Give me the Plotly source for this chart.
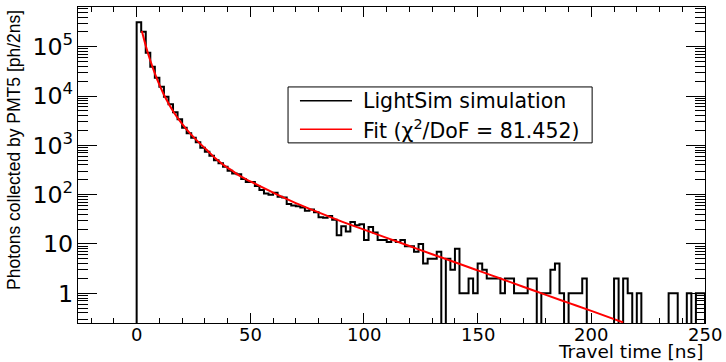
import plotly.graph_objects as go

# ---------------- data ----------------
bin_width = 2.0  # ns per bin
counts = [
    313000, 200000, 75000, 39000, 23500, 15400, 9700, 6800, 4700, 3400,
    2270, 1750, 1430, 1150, 890, 740, 614, 500, 431, 368,
    305, 270, 258, 207, 180, 180, 150, 124, 105, 100,
    110, 91, 88, 65, 60, 58, 55, 47, 50, 44,
    35, 34, 37, 31, 15, 23, 18, 28, 24, 25,
    12, 22, 17, 12, 12, 11, 12, 11, 12, 9,
    9, 7, 10, 4, 5, 5, 7, 0, 5, 3,
    8, 1, 1, 2, 1, 4, 3, 2, 2, 2,
    1, 2, 2, 1, 1, 1, 2, 2, 0, 1,
    1, 3, 4, 1, 0, 1, 1, 1, 2, 0,
    0, 0, 0, 0, 0, 2, 0, 2, 1, 0,
    1, 0, 0, 0, 0, 0, 0, 1, 1, 0,
    0, 1, 0, 1, 1,
]

fit_t = [2.3, 4.0, 6.0, 8.2, 10.4, 12.6, 16.3, 19.9, 23.6, 27.3, 30.9, 34.6,
         38.3, 41.9, 45.6, 50, 60, 70, 80, 90, 100, 110, 120, 130, 140, 150,
         160, 170, 180, 190, 200, 214]
fit_y = [2.08e5, 1.05e5, 5.25e4, 2.72e4, 1.54e4, 9.3e3, 4.7e3, 2.77e3, 1.73e3,
         1.15e3, 804, 545, 398, 309, 237, 186, 110, 67.6, 43.7, 28.8, 19.5,
         13.3, 9.1, 6.2, 4.27, 2.92, 2.0, 1.36, 0.93, 0.64, 0.44, 0.257]

x_tick_vals = [0, 50, 100, 150, 200, 250]
x_tick_text = ["0", "50", "100", "150", "200", "250"]

x_range = [-25.8, 250]
y_log_range = [-0.602, 5.805]

hist_name = "LightSim simulation"
fit_name = "Fit (\u03c7<sup>2</sup>/DoF = 81.452)"
x_title = "Travel time [ns]"
y_title = "Photons collected by PMT5 [ph/2ns]"

hist_color = "black"
fit_color = "#ff0000"

# ---------------- build step outline ----------------
floor = 10 ** (y_log_range[0] - 1)  # below the visible range -> drawn to frame bottom
edges = [i * bin_width for i in range(len(counts) + 1)]
vals = [c if c > 0 else floor for c in counts]
hx = [edges[0]] + edges
hy = [floor] + vals + [floor]

fig = go.Figure()
fig.add_trace(go.Scatter(
    x=hx, y=hy, mode="lines", line=dict(color=hist_color, width=2, shape="hv"),
    name=hist_name, hoverinfo="skip", showlegend=False))
fig.add_trace(go.Scatter(
    x=fit_t, y=fit_y, mode="lines", line=dict(color=fit_color, width=2, shape="spline"),
    name=fit_name, hoverinfo="skip", showlegend=False))

font_main = "DejaVu Sans"

# ---------------- legend box (ROOT TLegend style) ----------------
leg_x0, leg_x1 = 0.335, 0.820
leg_y0, leg_y1 = 0.570, 0.747
leg_rows = [0.7035, 0.613]
line_x0, line_x1 = 0.354, 0.437
text_x = 0.452

shapes = [dict(type="rect", xref="paper", yref="paper", x0=leg_x0, x1=leg_x1,
               y0=leg_y0, y1=leg_y1, line=dict(color="black", width=1),
               fillcolor="white", layer="above")]
annotations = []
for name, col, yy in [(hist_name, hist_color, leg_rows[0]), (fit_name, fit_color, leg_rows[1])]:
    shapes.append(dict(type="line", xref="paper", yref="paper", x0=line_x0, x1=line_x1,
                       y0=yy, y1=yy, line=dict(color=col, width=1.5), layer="above"))
    annotations.append(dict(text=name, xref="paper", yref="paper", x=text_x, y=yy,
                            xanchor="left", yanchor="middle", showarrow=False,
                            font=dict(family=font_main, size=20.5, color="black")))

# x tick labels (placed tight under the frame, ROOT style)
for v, t in zip(x_tick_vals, x_tick_text):
    annotations.append(dict(text=t, xref="x", yref="paper", x=v, y=-0.036,
                            xanchor="center", yanchor="middle", showarrow=False,
                            font=dict(family=font_main, size=18, color="black")))

annotations += [
    dict(text=x_title, xref="paper", yref="paper", x=1.0, y=-0.089,
         xanchor="right", yanchor="middle", showarrow=False,
         font=dict(family=font_main, size=18.5, color="black")),
    dict(text=y_title, xref="paper", yref="paper", x=-0.102, y=0.997,
         xanchor="center", yanchor="top", textangle=-90, showarrow=False,
         font=dict(family="Liberation Sans", size=17.5, color="black")),
]

fig.update_layout(
    width=726, height=362,
    margin=dict(l=78, r=21, t=7, b=39),
    paper_bgcolor="white", plot_bgcolor="white",
    showlegend=False,
    xaxis=dict(range=x_range, showline=True, linecolor="black", linewidth=1,
               mirror="allticks", ticks="inside", ticklen=10, tickcolor="black",
               tick0=0, dtick=50, showgrid=False, zeroline=False,
               showticklabels=False,
               minor=dict(ticks="inside", ticklen=5, dtick=10, tickcolor="black", showgrid=False)),
    yaxis=dict(type="log", range=y_log_range, showline=True, linecolor="black", linewidth=1,
               mirror="allticks", ticks="inside", ticklen=19, tickcolor="black",
               dtick=1, exponentformat="power", showgrid=False, zeroline=False,
               minor=dict(ticks="inside", ticklen=10, dtick="D1", tickcolor="black", showgrid=False),
               tickfont=dict(family=font_main, size=19, color="black")),
    shapes=shapes,
    annotations=annotations,
)

fig.write_html("out.html")
